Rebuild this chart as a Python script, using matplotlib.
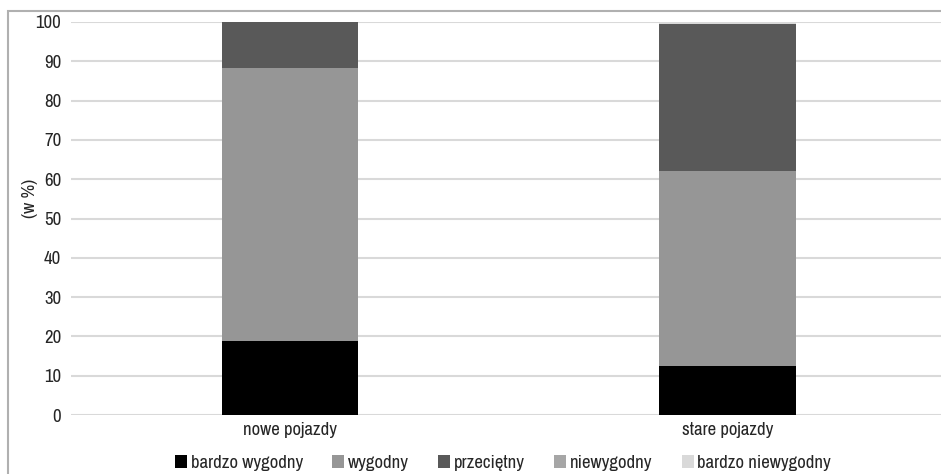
import matplotlib
matplotlib.use("Agg")
import matplotlib.pyplot as plt
from matplotlib import font_manager
from matplotlib.patches import Rectangle
import numpy as np

categories = ["nowe pojazdy", "stare pojazdy"]
series_names = ["bardzo wygodny", "wygodny", "przeciętny", "niewygodny", "bardzo niewygodny"]
bardzo_wygodny = [18.8, 12.5]
wygodny = [69.5, 49.7]
przecietny = [11.7, 37.2]
niewygodny = [0.0, 0.0]
bardzo_niewygodny = [0.0, 0.6]
colors = ["#000000", "#969696", "#595959", "#a6a6a6", "#d9d9d9"]
yticks = [0, 10, 20, 30, 40, 50, 60, 70, 80, 90, 100]

# pick a narrow sans face for all chart text
names = {f.name for f in font_manager.fontManager.ttflist}
family = "Liberation Sans"
for cand in ["Arial Narrow", "Liberation Sans Narrow", "Arimo Narrow", "Archivo Narrow",
             "Roboto Condensed", "PT Sans Narrow", "Pragati Narrow", "IBM Plex Sans Condensed"]:
    if cand in names:
        family = cand
        break
plt.rcParams["font.family"] = [family, "DejaVu Sans"]

FS = 13.5
TXT = "#262626"
W, H = 941, 474
fig = plt.figure(figsize=(W / 100, H / 100), dpi=100)
ax = fig.add_axes([71 / W, 1 - 415 / H, (946 - 71) / W, (415 - 22) / H])

x = np.arange(len(categories))
values = [bardzo_wygodny, wygodny, przecietny, niewygodny, bardzo_niewygodny]
bottom = np.zeros(len(categories))
handles = []
for name, vals, col in zip(series_names, values, colors):
    b = ax.bar(x, vals, 0.312, bottom=bottom, color=col, label=name, zorder=3)
    handles.append(b)
    bottom += np.array(vals)

ax.set_xlim(-0.5, 1.5)
ax.set_ylim(0, 100)
ax.set_yticks(yticks)
ax.set_yticklabels([str(v) for v in yticks], fontsize=FS, color=TXT)
ax.set_xticks(x)
ax.set_xticklabels(categories, fontsize=FS, color=TXT)
ax.tick_params(axis="both", length=0)
ax.tick_params(axis="y", pad=7)
ax.tick_params(axis="x", pad=5)
ax.yaxis.grid(True, color="#d9d9d9", linewidth=1.5, zorder=0)
ax.set_axisbelow(True)
for s in ax.spines.values():
    s.set_visible(False)

fig.text(30 / W, 1 - 198 / H, "(w %)", rotation=90, fontsize=FS,
         color=TXT, ha="center", va="center")

leg = fig.legend(handles=handles, labels=series_names, loc="center",
                 bbox_to_anchor=(503 / W, 1 - 463 / H), ncol=5, frameon=False,
                 fontsize=FS, handlelength=0.65, handleheight=0.65,
                 handletextpad=0.2, columnspacing=1.55, borderaxespad=0)
for t in leg.get_texts():
    t.set_color(TXT)

# outer chart frame
fig.patches.append(Rectangle((8 / W, -0.1), 1.2, 1.1 - 11 / H,
                             transform=fig.transFigure, fill=False,
                             edgecolor="#b0b0b0", linewidth=1.5))

fig.savefig("out.png", dpi=100)
